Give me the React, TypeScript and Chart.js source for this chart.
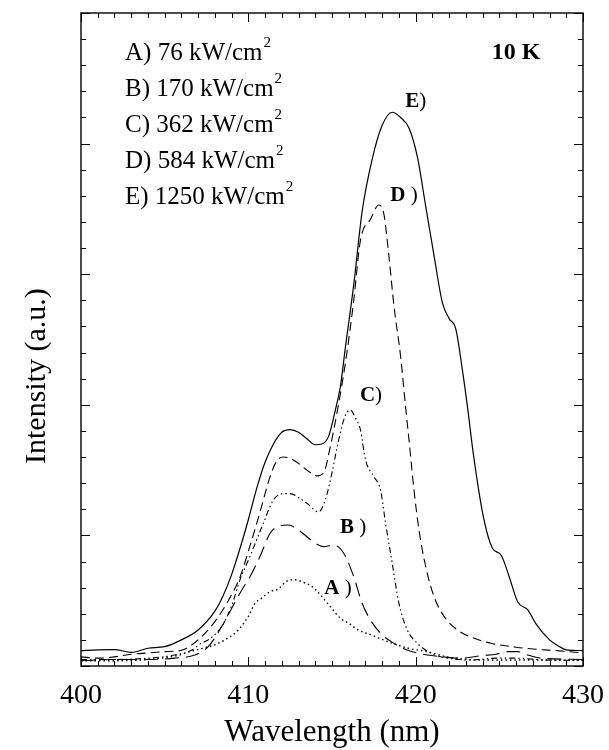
import React, { useEffect, useRef } from "react";
import { Chart, registerables } from "chart.js";

Chart.register(...registerables);

// ---- data (wavelength in nm, intensity in arbitrary units) ----
const eWl = [400, 401, 402, 403, 404, 405, 406, 407, 408, 408.5, 409, 409.5, 410, 410.5, 411, 411.5, 412, 412.5, 413, 413.5, 414, 414.4, 414.8, 415.2, 415.5, 415.8, 416.3, 416.8, 417.4, 418, 418.6, 419.1, 419.6, 420.1, 420.6, 421.1, 421.6, 422, 422.4, 422.8, 423.1, 423.45, 424.05, 424.6, 425.1, 425.6, 426.1, 426.7, 427.2, 428, 428.6, 429, 430];
const eInt = [0.59, 0.62, 0.63, 0.52, 0.68, 0.74, 1.0, 1.38, 2.1, 2.7, 3.5, 4.5, 5.6, 6.8, 7.8, 8.5, 8.95, 9.05, 8.95, 8.7, 8.47, 8.5, 8.8, 9.8, 10.7, 12.2, 14.6, 17.4, 19.4, 20.7, 21.2, 21.0, 20.6, 19.5, 17.6, 15.7, 13.9, 13.3, 12.9, 11.3, 9.9, 8.1, 5.7, 4.5, 4.25, 3.4, 2.45, 2.15, 1.6, 1.0, 0.74, 0.62, 0.59];

const dWl = [400, 401, 402, 403, 404, 405, 406, 406.6, 407.2, 408, 408.8, 409.5, 410.1, 410.7, 411.3, 411.7, 412.1, 412.5, 412.9, 413.5, 414.1, 414.5, 414.9, 415.3, 415.8, 416.3, 416.7, 417.3, 417.8, 418.1, 418.4, 418.7, 419.1, 419.4, 419.6, 419.9, 420.2, 420.6, 421.1, 421.7, 422.5, 423.5, 424.5, 426, 427.2, 428.6, 430];
const dInt = [0.35, 0.3, 0.35, 0.45, 0.5, 0.55, 0.6, 0.8, 1.12, 1.7, 2.5, 3.4, 4.6, 5.9, 7.25, 7.85, 8.0, 7.95, 7.8, 7.5, 7.28, 7.4, 8.4, 9.7, 11.6, 14.0, 16.3, 17.1, 17.65, 17.3, 15.7, 13.8, 11.85, 9.9, 8.66, 6.74, 5.2, 3.8, 2.65, 1.9, 1.38, 1.06, 0.87, 0.72, 0.64, 0.58, 0.5];

const cWl = [400, 402, 404, 405.6, 406.6, 407.2, 407.6, 408.4, 409, 409.5, 410.1, 410.9, 411.5, 412.1, 412.5, 413, 413.5, 414.2, 414.6, 415, 415.4, 415.8, 416.1, 416.4, 416.7, 417, 417.5, 417.9, 418.2, 418.6, 419, 419.5, 420.1, 420.9, 421.9, 423.3, 424.85, 426, 427.8, 430];
const cInt = [0.25, 0.25, 0.3, 0.42, 0.6, 0.88, 1.0, 1.5, 2.3, 3.3, 4.2, 5.47, 6.36, 6.6, 6.6, 6.45, 6.23, 5.9, 6.36, 7.4, 8.66, 9.6, 9.8, 9.5, 9.04, 7.9, 7.25, 6.74, 5.47, 3.93, 2.4, 1.38, 0.87, 0.49, 0.3, 0.23, 0.3, 0.3, 0.23, 0.22];

const bWl = [400, 402, 404, 405.6, 406.8, 407.6, 408.4, 409, 409.6, 410.1, 410.7, 411.3, 411.8, 412.4, 412.9, 413.5, 414, 414.5, 415, 415.4, 415.8, 416.3, 416.8, 417.3, 417.9, 418.7, 419.5, 420.7, 421.5, 422.65, 424, 424.8, 425.5, 426.1, 426.7, 427.5, 430];
const bInt = [0.2, 0.25, 0.25, 0.3, 0.42, 0.74, 1.5, 2.2, 2.9, 3.42, 4.2, 5.08, 5.35, 5.4, 5.25, 4.95, 4.7, 4.57, 4.62, 4.55, 4.2, 3.42, 2.4, 1.76, 1.25, 0.87, 0.61, 0.42, 0.36, 0.3, 0.4, 0.45, 0.55, 0.55, 0.42, 0.3, 0.25];

const aWl = [400, 402, 404, 405.9, 406.5, 407.3, 407.95, 408.6, 409.4, 410, 410.4, 410.8, 411.3, 411.8, 412.3, 412.8, 413.3, 413.8, 414.2, 414.9, 415.5, 416.1, 416.5, 417.3, 417.6, 418.6, 419.7, 420.7, 421.8, 423.85, 426, 430];
const aInt = [0.2, 0.2, 0.25, 0.42, 0.55, 0.68, 0.8, 1.0, 1.38, 1.9, 2.4, 2.6, 2.85, 2.95, 3.25, 3.3, 3.2, 3.05, 2.8, 2.27, 1.83, 1.6, 1.4, 1.2, 1.12, 0.87, 0.66, 0.55, 0.36, 0.23, 0.23, 0.22];

const xTickValues = [400, 410, 420, 430];
const xTitle = "Wavelength (nm)";
const yTitle = "Intensity (a.u.)";
const legendLines = ["A) 76 kW/cm", "B) 170 kW/cm", "C) 362 kW/cm", "D) 584 kW/cm", "E) 1250 kW/cm"];
const curveLetters = ["E", "D", "C", "B", "A"];
const curveSpacer = ["", " ", "", " ", " "];
const curveLabelX = [420.0, 419.3, 417.33, 416.26, 415.36];
const curveLabelY = [21.6, 18.0, 10.34, 5.29, 2.95];
const tempLabel = "10 K";

const SERIF = '"Liberation Serif", "Times New Roman", "DejaVu Serif", serif';

function pts(xs: number[], ys: number[]) {
  return xs.map((x, i) => ({ x, y: ys[i] }));
}

const framePlugin = {
  id: "frameAndText",
  afterDraw(chart: any) {
    const { ctx, chartArea: a, scales } = chart;
    const xs = scales.x;
    const ys = scales.y;
    ctx.save();
    ctx.strokeStyle = "#000";
    ctx.fillStyle = "#000";
    ctx.lineWidth = 1.4;
    ctx.strokeRect(a.left, a.top, a.right - a.left, a.bottom - a.top);
    ctx.lineWidth = 1;
    const seg = (x1: number, y1: number, x2: number, y2: number) => {
      ctx.beginPath();
      ctx.moveTo(x1, y1);
      ctx.lineTo(x2, y2);
      ctx.stroke();
    };
    for (let v = xs.min; v <= xs.max; v += 1) {
      const px = Math.round(xs.getPixelForValue(v)) + 0.5;
      const len = v % 10 === 0 ? 9 : 5;
      seg(px, a.bottom, px, a.bottom - len);
      seg(px, a.top, px, a.top + len);
    }
    for (let v = ys.min; v <= ys.max; v += 1) {
      const py = Math.round(ys.getPixelForValue(v)) + 0.5;
      const len = v % 5 === 0 ? 9 : 5;
      seg(a.left, py, a.left + len, py);
      seg(a.right, py, a.right - len, py);
    }
    // x tick labels
    ctx.textAlign = "center";
    ctx.textBaseline = "alphabetic";
    ctx.font = `28px ${SERIF}`;
    xTickValues.forEach((v) => {
      ctx.fillText(String(v), xs.getPixelForValue(v), a.bottom + 37);
    });
    // axis titles
    ctx.font = `31px ${SERIF}`;
    ctx.fillText(xTitle, (a.left + a.right) / 2, a.bottom + 75);
    ctx.save();
    ctx.translate(a.left - 44, ys.getPixelForValue(11.1));
    ctx.rotate(-Math.PI / 2);
    ctx.textBaseline = "middle";
    ctx.font = `30px ${SERIF}`;
    ctx.fillText(yTitle, 0, 0);
    ctx.restore();
    // legend text
    ctx.textBaseline = "middle";
    ctx.textAlign = "left";
    legendLines.forEach((t, i) => {
      const tx = a.left + 44;
      const ty = a.top + 40 + i * 36;
      ctx.font = `25px ${SERIF}`;
      ctx.fillText(t, tx, ty);
      const w = ctx.measureText(t).width;
      ctx.font = `15px ${SERIF}`;
      ctx.fillText("2", tx + w + 1, ty - 10);
    });
    ctx.font = `bold 24px ${SERIF}`;
    ctx.textAlign = "center";
    ctx.fillText(tempLabel, a.right - 67, a.top + 40);
    // curve labels
    curveLetters.forEach((L, i) => {
      const cx = xs.getPixelForValue(curveLabelX[i]);
      const cy = ys.getPixelForValue(curveLabelY[i]);
      ctx.font = `bold 21px ${SERIF}`;
      const w1 = ctx.measureText(L).width;
      ctx.font = `21px ${SERIF}`;
      const tail = curveSpacer[i] + ")";
      const w2 = ctx.measureText(tail).width;
      const start = cx - (w1 + w2) / 2;
      ctx.textAlign = "left";
      ctx.font = `bold 21px ${SERIF}`;
      ctx.fillText(L, start, cy);
      ctx.font = `21px ${SERIF}`;
      ctx.fillText(tail, start + w1, cy);
    });
    ctx.restore();
  },
};

export default function App() {
  const ref = useRef<HTMLCanvasElement | null>(null);
  useEffect(() => {
    if (!ref.current) return;
    const common = {
      pointRadius: 0,
      borderColor: "#000",
      borderWidth: 1.1,
      fill: false,
      cubicInterpolationMode: "monotone" as const,
    };
    const chart = new Chart(ref.current, {
      type: "line",
      data: {
        datasets: [
          { ...common, label: "E", data: pts(eWl, eInt), borderWidth: 1.2 },
          { ...common, label: "D", data: pts(dWl, dInt), borderDash: [9, 5] },
          { ...common, label: "C", data: pts(cWl, cInt), borderDash: [6, 3, 1.5, 3, 1.5, 3] },
          { ...common, label: "B", data: pts(bWl, bInt), borderDash: [14, 7] },
          { ...common, label: "A", data: pts(aWl, aInt), borderDash: [1.5, 3], borderWidth: 1.4 },
        ],
      },
      options: {
        animation: false,
        responsive: false,
        devicePixelRatio: 1,
        layout: { padding: { left: 81, right: 26, top: 13, bottom: 84 } },
        plugins: { legend: { display: false }, tooltip: { enabled: false } },
        scales: {
          x: { type: "linear", min: 400, max: 430, display: false },
          y: { type: "linear", min: 0, max: 25, display: false },
        },
      },
      plugins: [framePlugin],
    });
    return () => chart.destroy();
  }, []);
  return (
    <div style={{ position: "fixed", left: 0, top: 0, width: 609, height: 750, background: "#fff" }}>
      <canvas ref={ref} width={609} height={750} style={{ width: 609, height: 750, display: "block" }} />
    </div>
  );
}
